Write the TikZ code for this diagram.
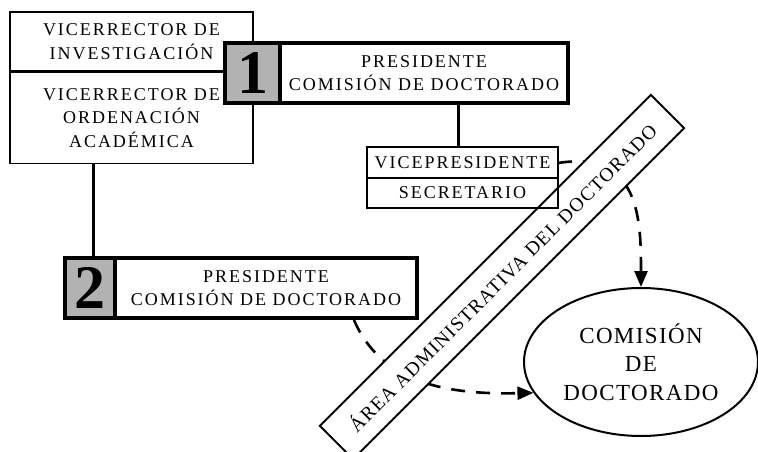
\documentclass[tikz,border=0pt]{standalone}
\usepackage{fontspec}
\setmainfont{Liberation Serif}
\newfontfamily\anchofont[LetterSpace=11]{Liberation Serif}
\usetikzlibrary{arrows.meta,shapes.geometric}

\begin{document}
\begin{tikzpicture}[x=1pt,y=-1pt,
        cargo/.style={draw,line width=1.6pt,align=center,inner sep=0pt,font=\anchofont\fontsize{18}{23.5}\selectfont},
        numero/.style={draw,line width=4pt,fill=black!30,inner sep=0pt,minimum width=55pt,minimum height=60pt,font=\fontsize{62}{62}\selectfont\bfseries},
        presi/.style={cargo,fill=white,line width=4pt,minimum height=60pt},
        flujo/.style={line width=2.6pt,dash pattern=on 14pt off 11pt,-{Triangle[length=16pt,width=13pt]}}]
        \useasboundingbox (0,0) rectangle (758,452);
        % vicerrectores
        \node[cargo,minimum width=243pt,minimum height=59pt] (vinv) at (131.5,41.5) {VICERRECTOR DE\\INVESTIGACIÓN};
        \node[cargo,minimum width=243pt,minimum height=91pt] (vord) at (131.5,118) {VICERRECTOR DE\\ORDENACIÓN\\ACADÉMICA};
        \draw[line width=3pt] (vord.south -| 93,0) -- (93,258);
        % presidente 1
        \node[numero] (num1) at (252.5,73) {1};
        \node[presi,minimum width=288pt] (pres1) at (424,73) {PRESIDENTE\\COMISIÓN DE DOCTORADO};
        \draw[line width=3pt] (pres1.south -| 458,0) -- (458,147);
        % presidente 2
        \node[numero,minimum width=50pt] (num2) at (90,288) {2};
        \node[presi,minimum width=302pt] (pres2) at (266,288) {PRESIDENTE\\COMISIÓN DE DOCTORADO};
        % comision
        \node[draw,ellipse,line width=2pt,minimum width=234pt,minimum height=148pt,align=center,font=\addfontfeatures{LetterSpace=6}\fontsize{23}{28.5}\selectfont] (cdoc) at (641,362) {COMISIÓN\\DE\\DOCTORADO};
        \coordinate (vsal) at (558,163);
        \draw[flujo] (vsal) .. controls (640,150) and (641,220) .. (cdoc.north);
        \draw[flujo] (pres2.-20) .. controls (380,380) and (440,395) .. (cdoc.196);
        % area administrativa
        \node[draw,fill=white,line width=2pt,rotate=45,minimum width=468pt,minimum height=47pt,inner sep=0pt,font=\addfontfeatures{LetterSpace=6}\fontsize{19.5}{19.5}\selectfont] (area) at (502,277) {ÁREA ADMINISTRATIVA DEL DOCTORADO};
        % vicepresidente y secretario
        \node[cargo,minimum width=191pt,minimum height=31pt] (vice) at (462.5,162.5) {VICEPRESIDENTE};
        \node[cargo,minimum width=191pt,minimum height=30pt] (secr) at (462.5,193) {SECRETARIO};
    \end{tikzpicture}
\end{document}
